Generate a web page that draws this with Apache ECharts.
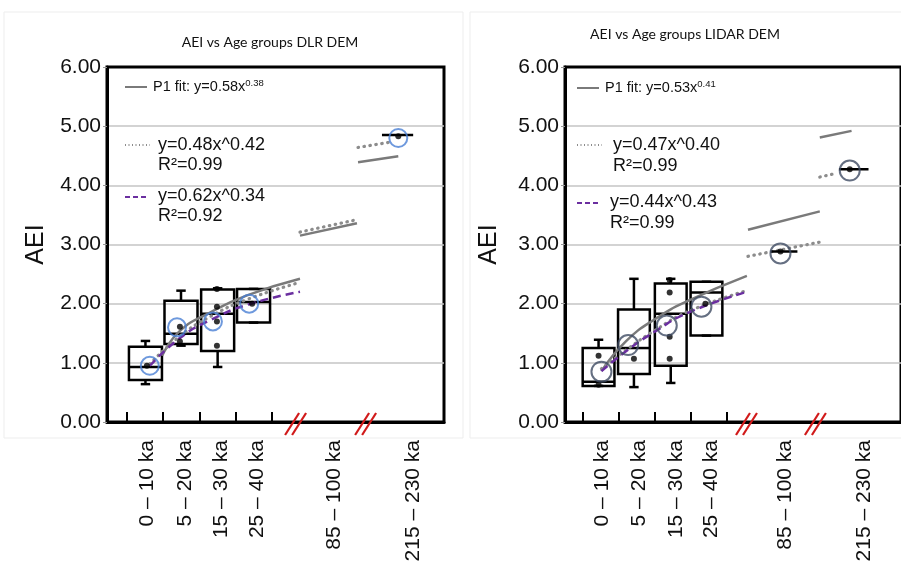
<!DOCTYPE html>
<html>
<head>
<meta charset="utf-8">
<script src="https://cdn.jsdelivr.net/npm/echarts@6/dist/echarts.min.js"></script>
<style>
    html, body { margin: 0; padding: 0; background: #fff; }
    #canvas { width: 901px; height: 567px; }
</style>
</head>
<body>
<div id="canvas"></div>
<script>
/**---------------------------------------------------------------------------------------------------------------------
 * Data (x is a position on the broken age axis, y is AEI)
 *-------------------------------------------------------------------------------------------------------------------*/
let ageGroups = ['0 – 10 ka', '5 – 20 ka', '15 – 30 ka', '25 – 40 ka', '85 – 100 ka', '215 – 230 ka'];
let yTicks = [0, 1, 2, 3, 4, 5, 6];

// DLR DEM panel
let dlrLabelPos = [0.55, 1.6, 2.6, 3.6, 5.7, 7.9];
let dlrTickPos = [0, 1, 2, 3, 4];
let dlrBreaks = [4.69, 6.62];
// [position, low whisker, Q1, median, Q3, high whisker]
let dlrBoxes = [
    [0.51, 0.64, 0.71, 0.93, 1.27, 1.37],
    [1.49, 1.29, 1.32, 1.49, 2.05, 2.22],
    [2.50, 0.93, 1.20, 1.83, 2.24, 2.26],
    [3.49, 1.68, 1.68, 2.03, 2.25, 2.25]
];
let dlrMeanX = [0.63, 1.38, 2.37, 3.37, 7.48];
let dlrMeanY = [0.95, 1.60, 1.70, 2.00, 4.80];
let dlrPointX = [0.55, 1.46, 1.46, 2.48, 2.48, 2.48, 2.48, 3.45, 7.48];
let dlrPointY = [0.95, 1.61, 1.36, 2.25, 1.95, 1.70, 1.29, 2.00, 4.83];
let dlrErrBars = [[[7.03, 4.85], [7.89, 4.85]]];
let dlrSolid = [
    [[0.97, 1.12], [1.46, 1.54], [2.29, 1.85], [3.31, 2.14], [4.77, 2.42]],
    [[4.77, 3.15], [6.34, 3.36]],
    [[6.37, 4.39], [7.48, 4.49]]
];
let dlrDotted = [
    [[0.63, 0.98], [1.46, 1.45], [2.29, 1.78], [3.31, 2.07], [4.77, 2.36]],
    [[4.77, 3.21], [6.34, 3.42]],
    [[6.37, 4.64], [7.26, 4.73]]
];
let dlrDashed = [
    [[0.63, 0.95], [1.46, 1.42], [2.29, 1.72], [3.31, 1.98], [4.77, 2.20]]
];

// LIDAR DEM panel
let lidarLabelPos = [0.55, 1.56, 2.58, 3.56, 5.62, 7.81];
let lidarTickPos = [0, 1, 2, 3, 4];
let lidarBreaks = [4.58, 6.49];
let lidarBoxes = [
    [0.44, 0.61, 0.61, 0.68, 1.25, 1.39],
    [1.42, 0.59, 0.81, 1.25, 1.90, 2.42],
    [2.44, 0.66, 0.95, 1.83, 2.34, 2.42],
    [3.43, 1.46, 1.46, 2.19, 2.37, 2.37]
];
let lidarMeanX = [0.52, 1.26, 2.33, 3.29, 5.48, 7.40];
let lidarMeanY = [0.85, 1.30, 1.63, 1.95, 2.85, 4.25];
let lidarPointX = [0.44, 0.44, 1.42, 2.41, 2.41, 2.41, 2.41, 3.40, 5.48, 7.40];
let lidarPointY = [1.12, 0.63, 1.07, 2.40, 2.19, 1.44, 1.07, 2.00, 2.88, 4.27];
let lidarErrBars = [[[5.21, 2.88], [5.95, 2.88]], [[7.10, 4.27], [7.92, 4.27]]];
let lidarSolid = [
    [[0.52, 0.86], [1.21, 1.37], [2.03, 1.75], [2.93, 2.05], [4.55, 2.47]],
    [[4.58, 3.25], [6.57, 3.56]],
    [[6.57, 4.81], [7.45, 4.92]]
];
let lidarDotted = [
    [[0.52, 0.90], [1.21, 1.22], [2.03, 1.56], [2.93, 1.87], [4.55, 2.22]],
    [[4.58, 2.80], [6.57, 3.04]],
    [[6.57, 4.14], [7.00, 4.20]]
];
let lidarDashed = [
    [[0.52, 0.86], [1.21, 1.20], [2.03, 1.54], [2.93, 1.85], [4.55, 2.20]]
];

/**---------------------------------------------------------------------------------------------------------------------
 * Styles
 *-------------------------------------------------------------------------------------------------------------------*/
const FONT = '"Liberation Sans", Arial, sans-serif';
const SOLID_COLOR = '#7a7a7a';
const DOT_COLOR = '#8c8c8c';
const DASH_COLOR = '#6b2fa0';

/**
 * Build axes and series for one panel
 */
function buildPanel(idx, p) {
    let xAxis = {
        type: 'value', gridIndex: idx, min: p.xMin, max: p.xMax,
        splitLine: {show: false},
        axisLine: {show: true, onZero: false, lineStyle: {color: '#000', width: 3}},
        axisTick: {show: true, inside: true, length: 10, customValues: p.ticks,
            lineStyle: {color: '#000', width: 2}},
        axisLabel: {
            show: true, rotate: 90, margin: 18, customValues: p.labelPos,
            fontFamily: FONT, fontSize: 21, color: '#111',
            formatter: function (v) {
                let i = p.labelPos.indexOf(v);
                return i >= 0 ? ageGroups[i] : '';
            }
        }
    };
    let yAxis = {
        type: 'value', gridIndex: idx, min: 0, max: 6, interval: 1,
        name: 'AEI', nameLocation: 'middle', nameGap: p.nameGap, nameRotate: 90,
        nameTextStyle: {fontFamily: FONT, fontSize: 25, color: '#111'},
        axisLine: {show: true, onZero: false, lineStyle: {color: '#000', width: 3}},
        axisTick: {show: true, length: 4, lineStyle: {color: '#999'}},
        axisLabel: {margin: 6, fontFamily: FONT, fontSize: 21, color: '#111',
            formatter: function (v) { return yTicks.indexOf(v) >= 0 ? v.toFixed(2) : ''; }},
        splitLine: {show: true, showMinLine: false, showMaxLine: false,
            lineStyle: {color: '#c4c4c4', width: 1.5}}
    };

    let series = [];
    let lineSeries = function (data, style) {
        return {
            type: 'line', xAxisIndex: idx, yAxisIndex: idx, data: data,
            smooth: data.length > 2, showSymbol: false, silent: true,
            lineStyle: style, z: 3
        };
    };
    p.solid.forEach(function (d) {
        series.push(lineSeries(d, {color: SOLID_COLOR, width: 2.5}));
    });
    p.dotted.forEach(function (d) {
        series.push(lineSeries(d, {color: DOT_COLOR, width: 3.2, type: [0.5, 5.5], cap: 'round'}));
    });
    p.dashed.forEach(function (d) {
        series.push(lineSeries(d, {color: DASH_COLOR, width: 2.5, type: [8, 5]}));
    });

    // box plots
    series.push({
        type: 'custom', xAxisIndex: idx, yAxisIndex: idx, data: p.boxes, z: 2,
        renderItem: function (params, api) {
            let x = api.value(0);
            let half = api.size([p.boxWidth, 0])[0] / 2;
            let cap = api.size([0.26, 0])[0] / 2;
            let lo = api.coord([x, api.value(1)]);
            let q1 = api.coord([x, api.value(2)]);
            let md = api.coord([x, api.value(3)]);
            let q3 = api.coord([x, api.value(4)]);
            let hi = api.coord([x, api.value(5)]);
            let style = {stroke: '#000', lineWidth: 2.5, fill: null};
            let cx = q1[0];
            return {
                type: 'group',
                children: [
                    {type: 'rect', shape: {x: cx - half, y: q3[1], width: half * 2, height: q1[1] - q3[1]}, style: style},
                    {type: 'line', shape: {x1: cx - half, y1: md[1], x2: cx + half, y2: md[1]}, style: style},
                    {type: 'line', shape: {x1: cx, y1: q3[1], x2: cx, y2: hi[1]}, style: style},
                    {type: 'line', shape: {x1: cx, y1: q1[1], x2: cx, y2: lo[1]}, style: style},
                    {type: 'line', shape: {x1: cx - cap, y1: hi[1], x2: cx + cap, y2: hi[1]}, style: style},
                    {type: 'line', shape: {x1: cx - cap, y1: lo[1], x2: cx + cap, y2: lo[1]}, style: style}
                ]
            };
        }
    });

    // horizontal error bars
    p.errBars.forEach(function (d) {
        series.push({
            type: 'line', xAxisIndex: idx, yAxisIndex: idx, data: d, showSymbol: false,
            silent: true, lineStyle: {color: '#000', width: 2.5}, z: 4
        });
    });

    // individual points
    series.push({
        type: 'scatter', xAxisIndex: idx, yAxisIndex: idx, symbolSize: 6, z: 5,
        data: p.pointX.map(function (x, i) { return [x, p.pointY[i]]; }),
        itemStyle: {color: '#000'}
    });

    // mean circles
    series.push({
        type: 'scatter', xAxisIndex: idx, yAxisIndex: idx, symbolSize: p.circleSize, z: 6,
        data: p.meanX.map(function (x, i) { return [x, p.meanY[i]]; }),
        itemStyle: {color: 'rgba(0,0,0,0)', borderColor: p.circleColor, borderWidth: 2}
    });

    // axis break marks
    series.push({
        type: 'custom', xAxisIndex: idx, yAxisIndex: idx, z: 10, clip: false,
        data: p.breaks.map(function (b) { return [b, 0]; }),
        renderItem: function (params, api) {
            let c = api.coord([api.value(0), 0]);
            let style = {stroke: '#d11a1a', lineWidth: 2.2};
            return {
                type: 'group',
                children: [
                    {type: 'line', shape: {x1: c[0] - 12, y1: c[1] + 13, x2: c[0] + 2, y2: c[1] - 9}, style: style},
                    {type: 'line', shape: {x1: c[0] - 5, y1: c[1] + 13, x2: c[0] + 9, y2: c[1] - 9}, style: style}
                ]
            };
        }
    });

    return {xAxis: xAxis, yAxis: yAxis, series: series};
}

/**
 * Legend block drawn with graphic elements
 */
function legendGraphic(l) {
    let big = {fontFamily: FONT, fontSize: 18, fill: '#111'};
    return [
        {type: 'line', shape: {x1: l.x, y1: l.y1, x2: l.x + 22, y2: l.y1},
            style: {stroke: SOLID_COLOR, lineWidth: 2}},
        {type: 'text', x: l.tx1, y: l.y1, style: {
            text: '{a|P1 fit: y=' + l.p1 + 'x}{s|' + l.p1exp + '}',
            verticalAlign: 'middle',
            rich: {
                a: {fontFamily: FONT, fontSize: 14.5, fill: '#111'},
                s: {fontFamily: FONT, fontSize: 9.5, fill: '#111', verticalAlign: 'top', padding: [0, 0, 7, 0]}
            }
        }},
        {type: 'line', shape: {x1: l.x, y1: l.y2, x2: l.x + 25, y2: l.y2},
            style: {stroke: DOT_COLOR, lineWidth: 2, lineDash: [1, 2.5]}},
        {type: 'text', x: l.tx2, y: l.y2 - 10, style: Object.assign({
            text: l.dotEq + '\nR²=' + l.dotR, lineHeight: l.lh, verticalAlign: 'top'}, big)},
        {type: 'line', shape: {x1: l.x, y1: l.y3, x2: l.x + 24, y2: l.y3},
            style: {stroke: DASH_COLOR, lineWidth: 2, lineDash: [5, 3]}},
        {type: 'text', x: l.tx3, y: l.y3 - 11, style: Object.assign({
            text: l.dashEq + '\nR²=' + l.dashR, lineHeight: l.lh, verticalAlign: 'top'}, big)}
    ];
}

/**---------------------------------------------------------------------------------------------------------------------
 * Chart
 *-------------------------------------------------------------------------------------------------------------------*/
let eChartInstance = echarts.init(document.getElementById('canvas'), null, {renderer: 'canvas'});

let left = buildPanel(0, {
    xMin: -0.55, xMax: 8.74, ticks: dlrTickPos, labelPos: dlrLabelPos, breaks: dlrBreaks,
    boxes: dlrBoxes, boxWidth: 0.91, meanX: dlrMeanX, meanY: dlrMeanY,
    pointX: dlrPointX, pointY: dlrPointY, errBars: dlrErrBars,
    solid: dlrSolid, dotted: dlrDotted, dashed: dlrDashed,
    circleColor: '#4a7fd4', circleSize: 18, nameGap: 58
});
let right = buildPanel(1, {
    xMin: -0.49, xMax: 8.82, ticks: lidarTickPos, labelPos: lidarLabelPos, breaks: lidarBreaks,
    boxes: lidarBoxes, boxWidth: 0.88, meanX: lidarMeanX, meanY: lidarMeanY,
    pointX: lidarPointX, pointY: lidarPointY, errBars: lidarErrBars,
    solid: lidarSolid, dotted: lidarDotted, dashed: lidarDashed,
    circleColor: '#3e4b63', circleSize: 20, nameGap: 63
});

let eChartsOption = {
    backgroundColor: '#fff',
    animation: false,
    title: [
        {text: 'AEI vs Age groups DLR DEM', left: 265, top: 30, textAlign: 'center',
            textStyle: {fontFamily: 'Lato, sans-serif', fontSize: 14, fontWeight: 'normal', color: '#111'}},
        {text: 'AEI vs Age groups LIDAR DEM', left: 680, top: 22, textAlign: 'center',
            textStyle: {fontFamily: 'Lato, sans-serif', fontSize: 14, fontWeight: 'normal', color: '#111'}}
    ],
    grid: [
        {left: 107, top: 67, right: 457, bottom: 145, show: true, borderColor: '#000', borderWidth: 3},
        {left: 565, top: 67, right: -6, bottom: 145, show: true, borderColor: '#000', borderWidth: 3}
    ],
    xAxis: [left.xAxis, right.xAxis],
    yAxis: [left.yAxis, right.yAxis],
    series: left.series.concat(right.series),
    graphic: [
        {type: 'rect', shape: {x: 4, y: 12, width: 459, height: 426}, silent: true, z: -1,
            style: {fill: null, stroke: '#ededed', lineWidth: 1}},
        {type: 'rect', shape: {x: 470, y: 12, width: 440, height: 426}, silent: true, z: -1,
            style: {fill: null, stroke: '#ededed', lineWidth: 1}}
    ].concat(legendGraphic({
        x: 125, tx1: 153, tx2: 158, tx3: 158, y1: 87, y2: 145, y3: 197, lh: 20,
        p1: '0.58', p1exp: '0.38', dotEq: 'y=0.48x^0.42', dotR: '0.99', dashEq: 'y=0.62x^0.34', dashR: '0.92'
    })).concat(legendGraphic({
        x: 577, tx1: 605, tx2: 613, tx3: 610, y1: 88, y2: 145, y3: 203, lh: 21,
        p1: '0.53', p1exp: '0.41', dotEq: 'y=0.47x^0.40', dotR: '0.99', dashEq: 'y=0.44x^0.43', dashR: '0.99'
    }))
};

eChartInstance.setOption(eChartsOption, true);
</script>
</body>
</html>
